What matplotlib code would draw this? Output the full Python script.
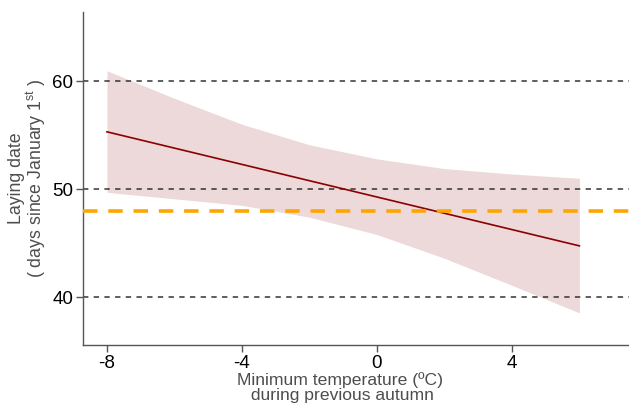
import numpy as np
import matplotlib.pyplot as plt

plt.rcParams['font.family'] = ['Liberation Sans', 'DejaVu Sans']

# model prediction (laying date vs autumn minimum temperature)
temp = [-8, -6, -4, -2, 0, 2, 4, 6]
upper = [60.95, 58.4, 56.0, 54.1, 52.8, 51.9, 51.4, 51.0]
lower = [49.7, 49.1, 48.5, 47.4, 45.8, 43.6, 41.1, 38.55]
fit_x = [-8, 6]
fit_y = [55.3, 44.75]
mean_date = 48
grid_y = [40, 50, 60]
xticks = [-8, -4, 0, 4]

fig = plt.figure(figsize=(6.29, 4.09), dpi=100)
ax = fig.add_axes([0.132, 0.156, 0.868, 0.815])

ax.fill_between(temp, lower, upper, color='#8b0000', alpha=0.15, lw=0)
ax.plot(fit_x, fit_y, color='#8b0000', lw=1.2)
for g in grid_y:
    ax.axhline(g, color='#333333', lw=1.1, ls=(0, (3.5, 3.5)), zorder=1)
ax.axhline(mean_date, color='#FFA500', lw=2.6, ls=(0, (4, 3)), zorder=3)

ax.set_xlim(-8.71, 7.47)
ax.set_ylim(35.56, 66.4)
ax.set_xticks(xticks)
ax.set_xticklabels([str(t) for t in xticks])
ax.set_yticks(grid_y)

for s in ['top', 'right']:
    ax.spines[s].set_visible(False)
for s in ['left', 'bottom']:
    ax.spines[s].set_color('#555555')
    ax.spines[s].set_linewidth(1.0)
ax.tick_params(colors='#555555', length=5, width=1, labelcolor='black', labelsize=13.5, pad=2)

ax.set_ylabel('Laying date\n( days since January 1$^{\\mathregular{st}}$ )',
              fontsize=12.8, color='#4d4d4d', linespacing=1.0, labelpad=3)
fig.text(0.54, 0.015, 'Minimum temperature (ºC)\n during previous autumn',
         ha='center', va='bottom', fontsize=12.6, color='#4d4d4d', linespacing=1.0)

fig.savefig('out.png', dpi=100)
